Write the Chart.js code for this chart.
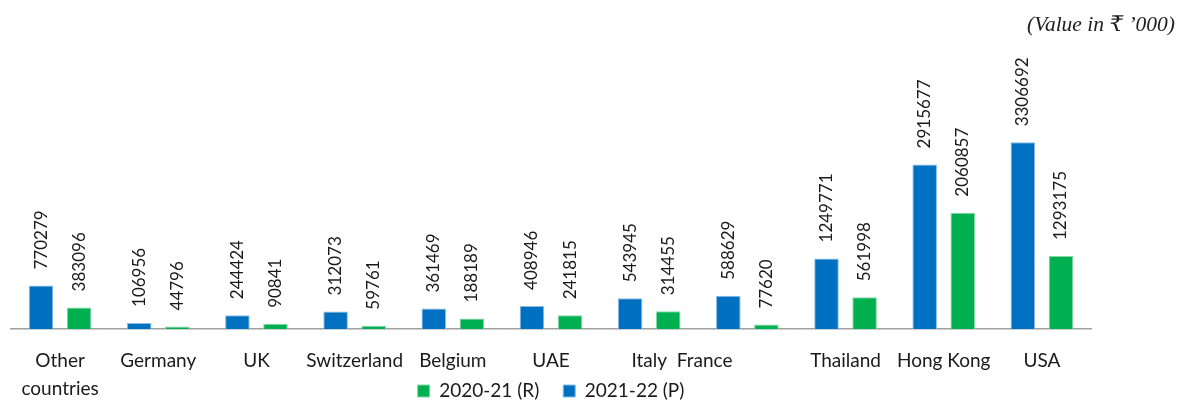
<!DOCTYPE html>
<html>
<head>
<meta charset="utf-8">
<script src="https://cdn.jsdelivr.net/npm/chart.js@4/dist/chart.umd.min.js"></script>
<style>
  html, body { margin: 0; padding: 0; background: #ffffff; }
  #wrap { width: 1179px; height: 401px; position: relative; }
</style>
</head>
<body>
<div id="wrap"><canvas id="chart"></canvas></div>
<script>
// Export destinations, values in ₹ '000
const categories = ["Other countries", "Germany", "UK", "Switzerland", "Belgium", "UAE",
                    "Italy", "France", "Thailand", "Hong Kong", "USA"];
const tickLabels = [["Other", "countries"], "Germany", "UK", "Switzerland", "Belgium", "UAE",
                    "Italy", "France\u2003\u2003\u2003\u2003\u2003\u2003", "Thailand", "Hong Kong", "USA"];
const values2122 = [770279, 106956, 244424, 312073, 361469, 408946,
                    543945, 588629, 1249771, 2915677, 3306692];
const values2021 = [383096, 44796, 90841, 59761, 188189, 241815,
                    314455, 77620, 561998, 2060857, 1293175];
const seriesNames = ["2021-22 (P)", "2020-21 (R)"];
const unitNote = "(Value in \u20B9 \u2019000)";

// Vertical value labels above every bar
const barValueLabels = {
  id: 'barValueLabels',
  afterDatasetsDraw(chart) {
    const ctx = chart.ctx;
    ctx.save();
    ctx.font = '17px Lato, "Noto Sans", sans-serif';
    ctx.fillStyle = '#1A1A1A';
    ctx.textAlign = 'left';
    ctx.textBaseline = 'middle';
    chart.data.datasets.forEach((ds, i) => {
      const meta = chart.getDatasetMeta(i);
      meta.data.forEach((bar, j) => {
        ctx.save();
        ctx.translate(bar.x, bar.y - 16);
        ctx.rotate(-Math.PI / 2);
        ctx.fillText(String(ds.data[j]), 0, 0);
        ctx.restore();
      });
    });
    ctx.restore();
  }
};

// Let the two-line category label run below the axis box
const tallCategoryLabels = {
  id: 'tallCategoryLabels',
  afterLayout(chart) {
    chart.scales.x.bottom = chart.height;
  }
};

new Chart(document.getElementById('chart'), {
  type: 'bar',
  data: {
    labels: tickLabels,
    datasets: [
      {
        label: seriesNames[0],
        data: values2122,
        backgroundColor: '#0070C0',
        borderColor: '#8DBBE6',
        borderWidth: 1,
        categoryPercentage: 0.776,
        barPercentage: 0.645
      },
      {
        label: seriesNames[1],
        data: values2021,
        backgroundColor: '#00B050',
        borderColor: '#86D6A6',
        borderWidth: 1,
        categoryPercentage: 0.776,
        barPercentage: 0.645
      }
    ]
  },
  options: {
    responsive: true,
    maintainAspectRatio: false,
    animation: false,
    layout: { padding: { left: 11, right: 4, top: 0, bottom: -9.5 } },
    scales: {
      x: {
        grid: { display: false },
        border: { display: true, color: '#A0A0A0', width: 1.5 },
        ticks: {
          color: '#1A1A1A',
          padding: 10,
          maxRotation: 0,
          autoSkip: false,
          font: { family: 'Lato, "Noto Sans", sans-serif', size: 19, lineHeight: 1.47 }
        },
        afterFit(scale) { scale.height = 28.5; }
      },
      y: {
        position: 'right',
        min: 0,
        max: 5000000,
        grid: { display: false },
        border: { display: false },
        ticks: { display: false },
        afterFit(scale) { scale.width = 84; }
      }
    },
    plugins: {
      legend: {
        position: 'bottom',
        fullSize: false,
        reverse: true,
        labels: {
          boxWidth: 12,
          boxHeight: 12,
          padding: 24,
          color: '#1A1A1A',
          font: { family: 'Lato, "Noto Sans", sans-serif', size: 19 }
        }
      },
      title: {
        display: true,
        text: unitNote,
        align: 'end',
        color: '#1E1E1E',
        padding: { top: 12, bottom: 9 },
        font: { family: '"Liberation Serif", "DejaVu Serif", serif', size: 21.5, style: 'italic', weight: 'normal' }
      },
      tooltip: { enabled: false }
    }
  },
  plugins: [barValueLabels, tallCategoryLabels]
});
</script>
</body>
</html>
